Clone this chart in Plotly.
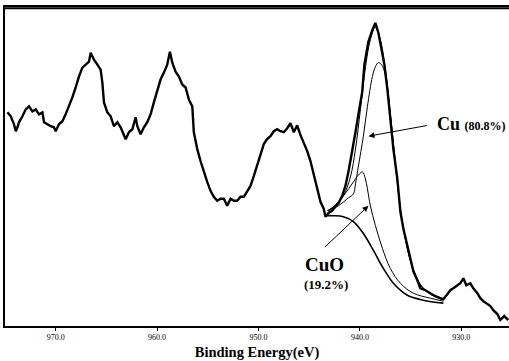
import plotly.graph_objects as go

# Measured spectrum (binding energy in eV, intensity in arbitrary units)
energy = [974.76, 974.43, 974.11, 973.94, 973.77, 973.62, 973.28, 972.96, 972.63, 972.30,
          971.97, 971.65, 971.31, 971.15, 970.82, 970.49, 970.17, 970.00, 969.68, 969.34,
          969.02, 968.69, 968.36, 968.03, 967.71, 967.37, 967.05, 966.72, 966.55, 966.23,
          965.89, 965.57, 965.40, 965.24, 964.91, 964.58, 964.26, 963.92, 963.60, 963.27,
          963.10, 962.78, 962.44, 962.12, 961.95, 961.63, 961.30, 960.97, 960.64, 960.32,
          959.98, 959.66, 959.33, 959.00, 958.74, 958.50, 958.18, 957.85, 957.52, 957.19,
          956.87, 956.53, 956.38, 956.04, 955.72, 955.39, 955.06, 954.73, 954.41, 954.07,
          953.75, 953.42, 953.09, 952.76, 952.43, 952.10, 951.78, 951.45, 951.12, 950.79,
          950.46, 950.13, 949.80, 949.48, 949.15, 948.82, 948.49, 948.16, 947.83, 947.51,
          947.17, 946.85, 946.52, 946.19, 945.86, 945.54, 945.20, 944.88, 944.55, 944.22,
          943.89, 943.57, 943.40, 943.07, 942.74, 942.42, 942.09, 941.75, 941.43, 941.10,
          940.77, 940.44, 940.12, 939.78, 939.56, 939.17, 938.77, 938.48, 938.18, 937.88,
          937.59, 937.29, 937.00, 936.70, 936.31, 936.01, 935.72, 935.32, 935.03, 934.73,
          934.34, 934.04, 933.55, 933.05, 932.56, 932.07, 931.77, 931.38, 931.08, 930.79,
          930.40, 930.10, 929.80, 929.51, 929.12, 928.82, 928.42, 928.13, 927.83, 927.44,
          927.14, 926.85, 926.45, 926.16, 925.77, 925.37]
intensity = [215, 211, 203, 196, 200, 205, 211, 218, 221, 216,
             218, 213, 215, 205, 203, 201, 200, 196, 203, 206,
             213, 221, 230, 240, 251, 260, 263, 266, 275, 268,
             263, 258, 245, 225, 215, 211, 201, 205, 200, 193,
             188, 195, 198, 210, 201, 193, 200, 205, 213, 225,
             236, 248, 255, 263, 276, 265, 256, 251, 243, 240,
             228, 221, 195, 178, 166, 155, 145, 136, 130, 126,
             128, 128, 121, 128, 126, 126, 130, 130, 135, 141,
             151, 161, 173, 183, 188, 191, 196, 198, 196, 195,
             199, 204, 195, 202, 192, 185, 176, 166, 152, 138,
             125, 118, 110, 114, 116, 120, 124, 131, 141, 157,
             175, 195, 215, 235, 263, 286, 298, 305, 295, 280,
             263, 238, 208, 178, 148, 115, 98, 81, 66, 55,
             46, 38, 36, 33, 30, 28, 27, 32, 36, 38,
             41, 43, 48, 41, 43, 38, 33, 28, 25, 22,
             20, 16, 12, 6, 10, 6]

# Shirley-type background
bg_energy = [943.40, 942.61, 941.63, 940.64, 939.66, 938.67, 937.69, 936.70, 935.32, 933.75, 931.77]
bg_int = [111, 111, 110, 105, 93, 76, 58, 43, 31, 26, 23]

# CuO component (+ background), 19.2 %
cuo_energy = [943.20, 942.61, 941.63, 940.64, 940.15, 939.75, 939.46, 939.26, 938.97, 938.47,
              937.78, 937.00, 936.01, 934.73, 933.06, 931.77]
cuo_int = [116, 120, 131, 145, 152, 155, 148, 138, 121, 101, 78, 58, 43, 33, 28, 25]

# Cu component (+ background), 80.8 %
cu_energy = [943.10, 942.12, 941.13, 940.64, 940.44, 940.15, 939.66, 939.26, 938.77, 938.47,
             938.18, 937.88, 937.49, 937.00, 936.50, 936.01, 935.52, 935.03, 934.53, 934.04,
             933.05, 931.77]
cu_int = [116, 121, 129, 133, 143, 161, 191, 221, 251, 261,
          265, 263, 253, 213, 163, 118, 88, 66, 52, 42, 32, 26]

# Total fitted envelope
fit_energy = [943.20, 942.42, 941.63, 940.94, 940.44, 939.95, 939.46, 938.97, 938.47, 937.98,
              937.49, 937.00, 936.50, 936.01, 935.52, 935.03, 934.53, 934.04, 933.05, 931.77]
fit_int = [116, 121, 131, 150, 178, 218, 260, 288, 301, 288,
           258, 213, 163, 118, 88, 66, 51, 41, 32, 27]

tick_vals = [970, 960, 950, 940, 930]
tick_text = ["970.0", "960.0", "950.0", "940.0", "930.0"]

FONT = "Liberation Serif"

fig = go.Figure()
fig.add_trace(go.Scatter(x=bg_energy, y=bg_int, mode="lines", line=dict(color="black", width=1.6, shape="spline"), hoverinfo="skip"))
fig.add_trace(go.Scatter(x=cuo_energy, y=cuo_int, mode="lines", line=dict(color="black", width=1, shape="spline"), hoverinfo="skip"))
fig.add_trace(go.Scatter(x=cu_energy, y=cu_int, mode="lines", line=dict(color="black", width=1, shape="spline"), hoverinfo="skip"))
fig.add_trace(go.Scatter(x=fit_energy, y=fit_int, mode="lines", line=dict(color="black", width=1, shape="spline"), hoverinfo="skip"))
fig.add_trace(go.Scatter(x=energy, y=intensity, mode="lines", line=dict(color="black", width=2.4)))

# Arrows
fig.add_annotation(x=939.16, y=191, ax=933.25, ay=202, xref="x", yref="y", axref="x", ayref="y",
                   text="", showarrow=True, arrowhead=2, arrowsize=1.2, arrowwidth=1, arrowcolor="black")
fig.add_annotation(x=939.16, y=121, ax=943.60, ay=78, xref="x", yref="y", axref="x", ayref="y",
                   text="", showarrow=True, arrowhead=2, arrowsize=1.2, arrowwidth=1, arrowcolor="black")

# Labels
fig.add_annotation(x=932.6, y=203, xref="x", yref="y", xanchor="left", yanchor="middle", showarrow=False,
                   text="<b>Cu</b> <b><span style='font-size:12px'>(80.8%)</span></b>",
                   font=dict(family=FONT, size=18, color="black"))
fig.add_annotation(x=945.65, y=62, xref="x", yref="y", xanchor="left", yanchor="middle", showarrow=False,
                   text="<b>CuO</b>", font=dict(family=FONT, size=19, color="black"))
fig.add_annotation(x=945.7, y=42, xref="x", yref="y", xanchor="left", yanchor="middle", showarrow=False,
                   text="<b>(19.2%)</b>", font=dict(family=FONT, size=13, color="black"))

# Top frame line
fig.add_shape(type="line", xref="paper", yref="paper", x0=0, x1=1, y0=0.996, y1=0.996,
              line=dict(color="black", width=2), layer="above")

fig.update_layout(
    width=509, height=361,
    margin=dict(l=5, r=0, t=7, b=33),
    paper_bgcolor="white", plot_bgcolor="white",
    showlegend=False,
    xaxis=dict(range=[975.0, 925.3], tickvals=tick_vals, ticktext=tick_text,
               ticks="outside", ticklen=3, tickwidth=1, tickcolor="black",
               showline=True, linecolor="black", linewidth=1.5, mirror=True,
               showgrid=False, zeroline=False,
               tickfont=dict(family=FONT, size=8, color="black"),
               title=dict(text="<b>Binding Energy(eV)</b>", font=dict(family=FONT, size=14.5, color="black"), standoff=9)),
    yaxis=dict(range=[0, 321], showticklabels=False, ticks="", showline=True, linecolor="black",
               linewidth=1.5, mirror=False, showgrid=False, zeroline=False),
)

fig.write_html("out.html", config={"displayModeBar": False},
               post_script="document.body.style.margin='0';document.body.style.overflow='hidden';")
